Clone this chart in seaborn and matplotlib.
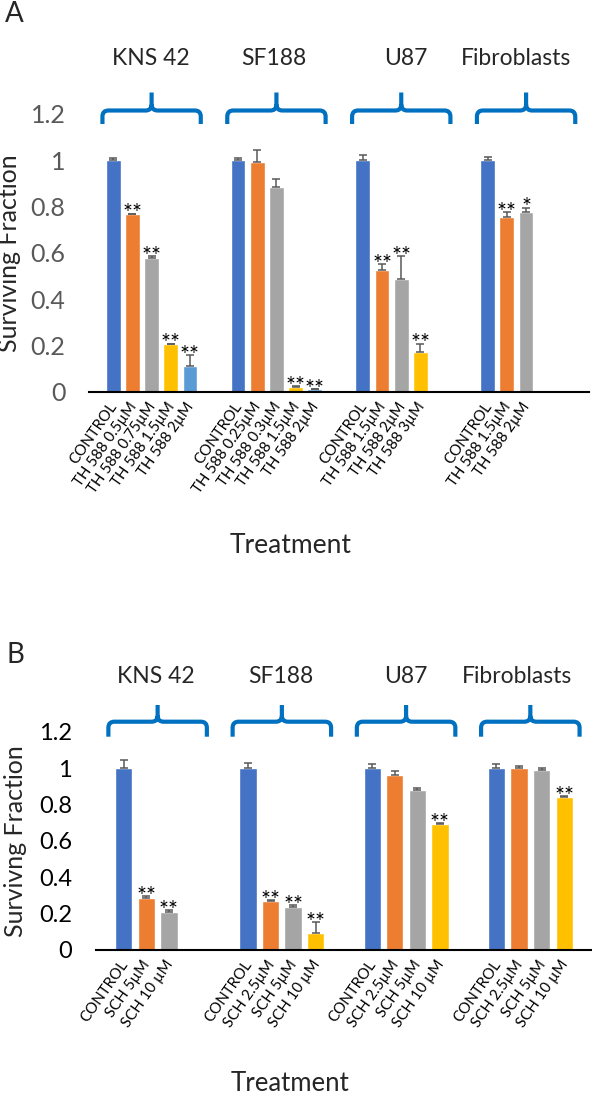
import numpy as np
import pandas as pd
import matplotlib
matplotlib.use("Agg")
import matplotlib.pyplot as plt
import seaborn as sns
from matplotlib.path import Path
from matplotlib.patches import PathPatch
from matplotlib import transforms

# ---- data, panel A (TH 588) ----
cell_lines = ["KNS 42", "SF188", "U87", "Fibroblasts"]
a_labels = [
    ["CONTROL", "TH 588 0.5µM", "TH 588 0.75µM", "TH 588 1.5µM", "TH 588 2µM"],
    ["CONTROL", "TH 588 0.25µM", "TH 588 0.3µM", "TH 588 1.5µM", "TH 588 2µM"],
    ["CONTROL", "TH 588 1.5µM", "TH 588 2µM", "TH 588 3µM"],
    ["CONTROL", "TH 588 1.5µM", "TH 588 2µM"],
]
a_values = [
    [1.0, 0.765, 0.575, 0.205, 0.11],
    [1.0, 0.99, 0.885, 0.02, 0.01],
    [1.0, 0.525, 0.485, 0.172],
    [1.0, 0.755, 0.775],
]
a_errors = [
    [0.01, 0.004, 0.012, 0.003, 0.05],
    [0.01, 0.055, 0.033, 0.004, 0.003],
    [0.02, 0.025, 0.1, 0.036],
    [0.015, 0.02, 0.02],
]
a_stars = [
    ["", "**", "**", "**", "**"],
    ["", "", "", "**", "**"],
    ["", "**", "**", "**"],
    ["", "**", "*"],
]

# ---- data, panel B (SCH) ----
b_labels = [
    ["CONTROL", "SCH 5µM", "SCH 10 µM"],
    ["CONTROL", "SCH 2.5µM", "SCH 5µM", "SCH 10 µM"],
    ["CONTROL", "SCH 2.5µM", "SCH 5µM", "SCH 10 µM"],
    ["CONTROL", "SCH 2.5µM", "SCH 5µM", "SCH 10 µM"],
]
b_values = [
    [1.0, 0.285, 0.21],
    [1.0, 0.268, 0.235, 0.095],
    [1.0, 0.96, 0.88, 0.69],
    [1.0, 1.0, 0.99, 0.843],
]
b_errors = [
    [0.045, 0.012, 0.01],
    [0.03, 0.008, 0.013, 0.057],
    [0.02, 0.025, 0.01, 0.01],
    [0.02, 0.012, 0.01, 0.005],
]
b_stars = [
    ["", "**", "**"],
    ["", "**", "**", "**"],
    ["", "", "", "**"],
    ["", "", "", "**"],
]

y_ticks = [0, 0.2, 0.4, 0.6, 0.8, 1, 1.2]
y_ticklabels = ["0", "0.2", "0.4", "0.6", "0.8", "1", "1.2"]
series_colors = ["#4472C4", "#ED7D31", "#A5A5A5", "#FFC000", "#5B9BD5"]

W, H = 592, 1097
sns.set_style("white")
plt.rcParams["font.family"] = ["Lato", "DejaVu Sans"]

fig = plt.figure(figsize=(W / 100, H / 100), dpi=100)


def fy(p):
    return 1 - p / H


def make_df(labels, values, errors, stars, group_step):
    rows = []
    for g in range(len(labels)):
        for j in range(len(labels[g])):
            rows.append({"pos": g * group_step + j, "series": f"s{j}",
                         "label": labels[g][j], "value": values[g][j],
                         "err": errors[g][j], "star": stars[g][j]})
    return pd.DataFrame(rows)


def draw_brace(ax, xc, half, y_peak, y_mid, y_tip):
    trans = transforms.blended_transform_factory(ax.transData, fig.transFigure)
    unit = ax.transData.transform((1, 0))[0] - ax.transData.transform((0, 0))[0]
    rx = 6 / unit
    r = 6
    x0, x1 = xc - half, xc + half
    verts = [(x0, fy(y_tip)), (x0, fy(y_mid + r)),
             (x0, fy(y_mid)), (x0 + rx, fy(y_mid)),
             (xc - rx, fy(y_mid)),
             (xc, fy(y_mid)), (xc, fy(y_mid - r)),
             (xc, fy(y_peak)),
             (xc, fy(y_mid - r)),
             (xc, fy(y_mid)), (xc + rx, fy(y_mid)),
             (x1 - rx, fy(y_mid)),
             (x1, fy(y_mid)), (x1, fy(y_mid + r)),
             (x1, fy(y_tip))]
    codes = [Path.MOVETO, Path.LINETO,
             Path.CURVE3, Path.CURVE3,
             Path.LINETO,
             Path.CURVE3, Path.CURVE3,
             Path.LINETO,
             Path.MOVETO,
             Path.CURVE3, Path.CURVE3,
             Path.LINETO,
             Path.CURVE3, Path.CURVE3,
             Path.LINETO]
    patch = PathPatch(Path(verts, codes), transform=trans, fill=False,
                      edgecolor="#0070C0", lw=3.0, capstyle="butt",
                      joinstyle="round", clip_on=False)
    fig.add_artist(patch)


def draw_panel(rect, df, group_step, n_series, xlim, tick_color, tick_size,
               brace_y, title_x, title_base):
    ax = fig.add_axes(rect)
    palette = {f"s{j}": series_colors[j] for j in range(n_series)}
    sns.barplot(data=df, x="pos", y="value", hue="series", palette=palette,
                native_scale=True, dodge=False, width=0.77, errorbar=None,
                saturation=1, legend=False, ax=ax)
    ax.errorbar(df["pos"], df["value"], yerr=[np.zeros(len(df)), df["err"]],
                fmt="none", ecolor="#595959", elinewidth=1.1, capsize=2.9,
                capthick=1.1)
    for _, r in df.iterrows():
        if r["star"]:
            ax.annotate(r["star"], xy=(r["pos"], r["value"] + r["err"]),
                        xytext=(0, -5), textcoords="offset points",
                        ha="center", va="baseline", fontsize=17, color="black")
    ax.set_xlim(*xlim)
    ax.set_ylim(0, 1.2)
    ax.set_yticks(y_ticks)
    ax.set_yticklabels(y_ticklabels, fontsize=tick_size, color=tick_color)
    ax.set_xticks(df["pos"])
    ax.set_xticklabels(df["label"], rotation=55, ha="right",
                       va="center_baseline", rotation_mode="anchor",
                       fontsize=10.8, color="black")
    ax.tick_params(axis="both", length=0)
    ax.tick_params(axis="y", pad=17)
    ax.tick_params(axis="x", pad=8)
    ax.set_xlabel("")
    ax.set_ylabel("")
    for s in ["left", "top", "right"]:
        ax.spines[s].set_visible(False)
    ax.spines["bottom"].set_color("black")
    ax.spines["bottom"].set_linewidth(1.5)
    ax.grid(False)
    half = {5: 2.56, 4: 2.18}[n_series]
    centre = (n_series - 1) / 2
    for g, name in enumerate(cell_lines):
        draw_brace(ax, g * group_step + centre, half, *brace_y)
        ax.text(title_x[g], fy(title_base), name, fontsize=16.5, ha="center",
                va="baseline", transform=transforms.blended_transform_factory(
                    ax.transData, fig.transFigure))
    return ax


df_a = make_df(a_labels, a_values, a_errors, a_stars, 6.5)
df_b = make_df(b_labels, b_values, b_errors, b_stars, 5.5)

ax_a = draw_panel([89 / W, fy(391.7), (588.7 - 89) / W, (391.7 - 113.7) / H],
                  df_a, 6.5, 5, (-1.26, 24.76), "#595959", 18,
                  (92.5, 110.5, 124), [1.94, 8.37, 15.24, 20.97], 65)
ax_b = draw_panel([95.5 / W, fy(950), (592 - 95.5) / W, (950 - 731.7) / H],
                  df_b, 5.5, 4, (-1.25, 20.73), "black", 17,
                  (705, 721.7, 736.7), [1.42, 6.96, 12.47, 17.4], 683.3)

fig.text(5 / W, fy(21.7), "A", fontsize=20, va="baseline", ha="left")
fig.text(6.5 / W, fy(663), "B", fontsize=20, va="baseline", ha="left")
fig.text(10 / W, fy(252.7), "Surviving Fraction", rotation=90, fontsize=18,
         ha="center", va="center")
fig.text(15.8 / W, fy(841), "Survivng Fraction", rotation=90, fontsize=18,
         ha="center", va="center")
fig.text(290.6 / W, fy(553.3), "Treatment", fontsize=19, ha="center",
         va="baseline")
fig.text(290 / W, fy(1091), "Treatment", fontsize=18.5, ha="center",
         va="baseline")

fig.savefig("out.png", dpi=100)
